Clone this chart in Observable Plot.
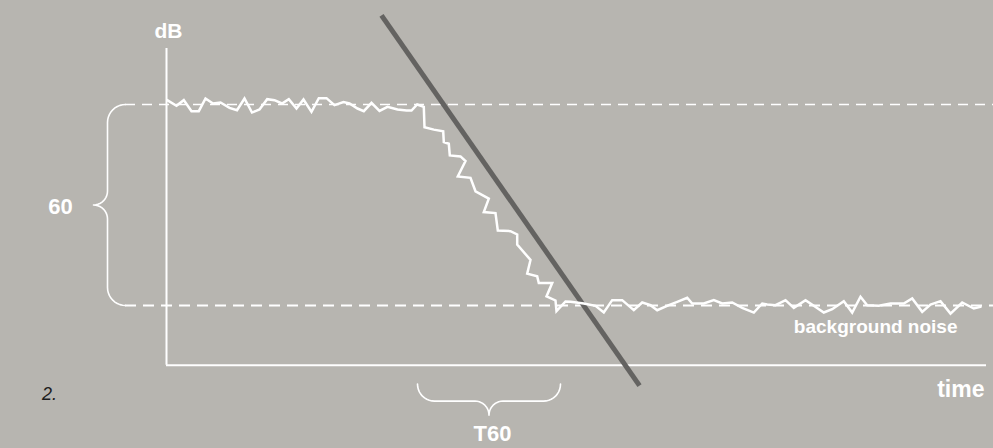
<!DOCTYPE html>
<html>
<head>
<meta charset="utf-8">
<script src="https://cdn.jsdelivr.net/npm/d3@7"></script>
<script src="https://cdn.jsdelivr.net/npm/@observablehq/plot@0.6"></script>
<style>
  html, body { margin: 0; padding: 0; background: #b7b5b0; }
  #chart { width: 993px; height: 448px; overflow: hidden; }
</style>
</head>
<body>
<div id="chart"></div>
<script>
// ---------- data (time in ms-like units, level in dB) ----------
const levelStart = 80;        // steady level before decay
const levelNoise = 20;        // background noise level (60 dB lower)
const axisLevelMin = 2.2;     // where the time axis sits
const axisLevelMax = 96.7;    // top of the dB axis
const timeEnd = 820;          // end of the time axis
const t60Span = [251, 394];   // interval marked "T60"

const steadyTime = [0.7, 10, 17.3, 25, 32.3, 39, 46.5, 54, 63, 70.5, 78, 85.5, 93, 100.7, 108, 115.5, 122.3, 130, 137, 145,
  152.3, 160, 168, 177, 183, 191, 197.3, 205, 213, 221, 231, 240, 245, 250.7, 257.3];
const steadyLevel = [81.3, 79.6, 81.3, 78.0, 78.0, 81.8, 80.3, 80.6, 79.0, 78.3, 81.8, 77.6, 78.5, 81.6, 81.3, 80.3, 81.6, 78.8, 81.5, 77.8,
  81.9, 81.9, 79.8, 80.7, 80.3, 78.8, 78.0, 80.5, 78.1, 79.3, 78.5, 78.2, 78.2, 80.0, 79.3];

const decayTime = [258, 267.3, 276.7, 277.3, 282.3, 283.3, 294, 299, 291.3, 304, 309, 322.3, 317.3, 329, 331.3, 344, 350.7, 350.7,
  364, 360.7, 370.7, 372.3, 385.7, 380, 389, 390, 399];
const decayLevel = [73.2, 72.5, 72.0, 68.8, 68.3, 64.8, 64.5, 63.1, 58.5, 58.1, 54.1, 51.9, 47.9, 47.6, 42.4, 42.2, 41.2, 38.2,
  33.6, 29.5, 28.7, 26.7, 26.7, 22.7, 21.5, 18.3, 21.2];

const noiseTime = [404, 417.3, 429, 437.3, 445.7, 455.7, 467.3, 475.7, 484, 490.7, 502.3, 510.7, 520.7, 525.7, 537.3, 547.3, 555.7,
  565.7, 575.7, 587.3, 595.7, 600.7, 609, 619, 627.3, 639, 647.3, 657.3, 665.7, 677.3, 685.7, 694, 700.7, 712.3, 724, 737.3,
  745.7, 755.7, 764, 774, 784, 795.7, 807.3, 814];
const noiseLevel = [21.1, 20.6, 19.9, 17.9, 21.6, 21.6, 18.6, 20.9, 20.1, 18.6, 20.1, 21.1, 22.3, 20.6, 20.6, 21.6, 20.6,
  20.9, 19.3, 17.9, 20.6, 20.3, 20.1, 21.6, 19.3, 21.6, 19.9, 17.9, 18.9, 21.3, 17.9, 22.6, 20.1, 19.9, 20.6, 20.6,
  22.1, 18.1, 20.3, 21.3, 17.6, 20.9, 19.1, 19.6];

// T60 regression line (end points)
const slopeTime = [215, 473];
const slopeLevel = [106.6, -3.9];

const labelAxisY = "dB";
const labelAxisX = "time";
const labelDrop = "60";
const labelT60 = "T60";
const labelNoise = "background noise";
const labelFigure = "2.";

// ---------- build tables ----------
const curveTime = [...steadyTime, ...decayTime, ...noiseTime];
const curveLevel = [...steadyLevel, ...decayLevel, ...noiseLevel];
const curve = curveTime.map((t, i) => ({t, level: curveLevel[i]}));
const slope = slopeTime.map((t, i) => ({t, level: slopeLevel[i]}));

// scales (shared with Plot)
const X = d3.scaleLinear([0, timeEnd], [166, 986]);
const Y = d3.scaleLinear([0, 100], [372, 37]);

function arc(cx, cy, r, a0, a1, n = 10) {
  const pts = [];
  for (let i = 0; i <= n; i++) {
    const a = (a0 + (a1 - a0) * i / n) * Math.PI / 180;
    pts.push([cx + r * Math.cos(a), cy + r * Math.sin(a)]);
  }
  return pts;
}
const toData = ([px, py]) => ({t: X.invert(px), level: Y.invert(py)});

// left brace spanning the 60 dB drop
const bx = X(0) - 59, by1 = Y(levelStart), by2 = Y(levelNoise), bmid = (by1 + by2) / 2;
const br = 18, brt = 14;
const braceLeft = [
  ...arc(bx + br, by1 + br, br, 270, 180),
  ...arc(bx - brt, bmid - brt, brt, 0, 90),
  ...arc(bx - brt, bmid + brt, brt, -90, 0),
  ...arc(bx + br, by2 - br, br, 180, 90)
].map(toData);

// bottom brace for T60
const tx1 = X(t60Span[0]), tx2 = X(t60Span[1]), tmid = (tx1 + tx2) / 2;
const tyEnd = Y(axisLevelMin) + 19, tr = 17, tyh = tyEnd + tr, trt = 14;
const braceT60 = [
  ...arc(tx1 + tr, tyEnd, tr, 180, 90),
  ...arc(tmid - trt, tyh + trt, trt, 270, 360),
  ...arc(tmid + trt, tyh + trt, trt, 180, 270),
  ...arc(tx2 - tr, tyEnd, tr, 90, 0)
].map(toData);

const dashStart = X.invert(bx + br);
const dashEnd = X.invert(993);

const font = "'Liberation Sans', Arial, Helvetica, sans-serif";
const W = "#ffffff";

const chart = Plot.plot({
  width: 993,
  height: 448,
  margin: 0,
  x: {domain: X.domain(), range: X.range(), axis: null},
  y: {domain: Y.domain(), range: Y.range(), axis: null},
  style: {background: "#b7b5b0", fontFamily: font, overflow: "visible"},
  marks: [
    // reference levels
    Plot.ruleY([levelStart], {x1: dashStart, x2: dashEnd, stroke: W, strokeWidth: 1.3, strokeDasharray: "10,7"}),
    Plot.ruleY([levelNoise], {x1: dashStart, x2: dashEnd, stroke: W, strokeWidth: 2.2, strokeDasharray: "11,7", strokeDashoffset: 18}),
    // axes
    Plot.ruleX([0], {y1: axisLevelMin, y2: axisLevelMax, stroke: W, strokeWidth: 2}),
    Plot.ruleY([axisLevelMin], {x1: 0, x2: timeEnd, stroke: W, strokeWidth: 2}),
    // braces
    Plot.line(braceLeft, {x: "t", y: "level", stroke: W, strokeWidth: 1.6}),
    Plot.line(braceT60, {x: "t", y: "level", stroke: W, strokeWidth: 1.6}),
    // T60 slope
    Plot.line(slope, {x: "t", y: "level", stroke: "#646361", strokeWidth: 5, strokeLinecap: "butt"}),
    // measured decay
    Plot.line(curve, {x: "t", y: "level", stroke: W, strokeWidth: 2.5, strokeLinejoin: "miter", strokeMiterlimit: 3}),
    // labels
    Plot.text([labelAxisY], {x: 0, y: axisLevelMax, dx: 2, dy: -11, lineAnchor: "bottom", textAnchor: "middle",
      fill: W, fontSize: 21, fontWeight: "bold", fontFamily: font}),
    Plot.text([labelDrop], {x: 0, y: (levelStart + levelNoise) / 2, dx: -106, dy: 9, lineAnchor: "bottom", textAnchor: "middle",
      fill: W, fontSize: 22, fontWeight: "bold", fontFamily: font}),
    Plot.text([labelT60], {x: (t60Span[0] + t60Span[1]) / 2, y: axisLevelMin, dx: 3.5, dy: 76, lineAnchor: "bottom", textAnchor: "middle",
      fill: W, fontSize: 22, fontWeight: "bold", fontFamily: font}),
    Plot.text([labelAxisX], {x: timeEnd, y: axisLevelMin, dx: -2, dy: 32, lineAnchor: "bottom", textAnchor: "end",
      fill: W, fontSize: 23, fontWeight: "bold", fontFamily: font}),
    Plot.text([labelNoise], {x: timeEnd, y: levelNoise, dx: -29, dy: 27, lineAnchor: "bottom", textAnchor: "end",
      fill: W, fontSize: 19, fontWeight: "bold", fontFamily: font}),
    Plot.text([labelFigure], {x: 0, y: axisLevelMin, dx: -124.5, dy: 35, lineAnchor: "bottom", textAnchor: "start",
      fill: "#1e1e1e", fontSize: 18, fontStyle: "italic", fontFamily: font})
  ]
});
document.getElementById("chart").appendChild(chart);
</script>
</body>
</html>
